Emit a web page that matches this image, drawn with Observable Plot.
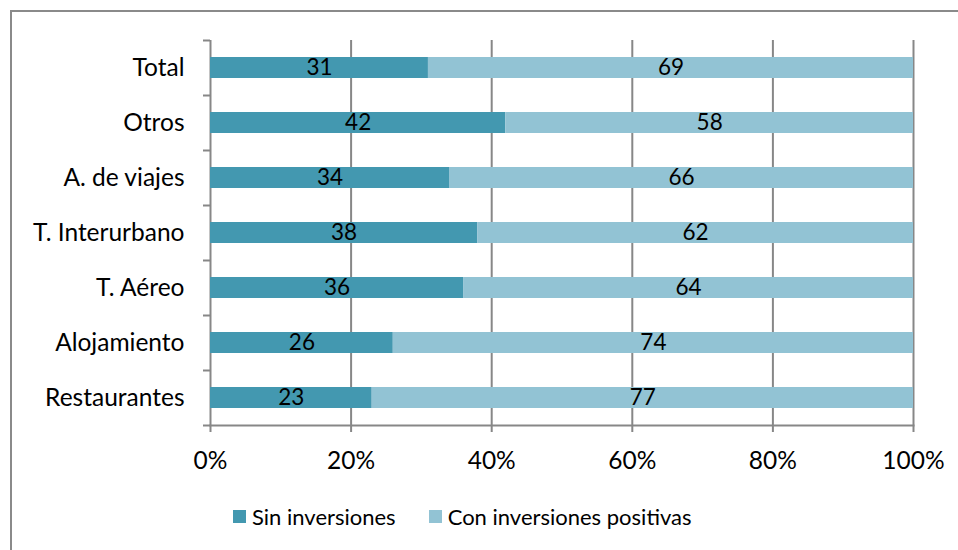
<!DOCTYPE html>
<html>
<head>
<meta charset="utf-8">
<script src="https://cdn.jsdelivr.net/npm/d3@7"></script>
<script src="https://cdn.jsdelivr.net/npm/@observablehq/plot@0.6"></script>
<style>
  html, body { margin: 0; padding: 0; background: #fff; }
  #wrap { position: relative; width: 958px; height: 550px; overflow: hidden; font-family: Lato, sans-serif; }
  #border { position: absolute; left: 10px; top: 10px; width: 960px; height: 560px; border-left: 2px solid #8a8a8a; border-top: 2px solid #8a8a8a; box-sizing: border-box; }
  #chart { position: absolute; left: 0; top: 0; }
  #legend { position: absolute; left: 233px; top: 503px; display: flex; align-items: center; font-size: 22px; color: #000; }
  .item { display: flex; align-items: center; margin-right: 33px; }
  .sw { width: 13px; height: 13px; margin-right: 6px; }
</style>
</head>
<body>
<div id="wrap">
  <div id="border"></div>
  <div id="chart"></div>
  <div id="legend"></div>
</div>
<script>
const categories = ["Total", "Otros", "A. de viajes", "T. Interurbano", "T. Aéreo", "Alojamiento", "Restaurantes"];
const sinInversiones = [31, 42, 34, 38, 36, 26, 23];
const conInversiones = [69, 58, 66, 62, 64, 74, 77];
const series = ["Sin inversiones", "Con inversiones positivas"];
const colors = ["#4398B0", "#92C3D4"];
const xTicks = [0, 20, 40, 60, 80, 100];

const data = categories.flatMap((c, i) => [
  {cat: c, serie: series[0], value: sinInversiones[i]},
  {cat: c, serie: series[1], value: conInversiones[i]}
]);

const gridColor = "#878787";

const chart = Plot.plot({
  width: 958,
  height: 480,
  marginLeft: 210,
  marginRight: 45,
  marginTop: 40,
  marginBottom: 55,
  style: {fontFamily: "Lato, sans-serif", fontSize: "24px", color: "black", background: "transparent", overflow: "visible"},
  x: {domain: [0, 100]},
  y: {domain: categories, padding: 0},
  color: {domain: series, range: colors},
  marks: [
    Plot.ruleX(xTicks, {stroke: gridColor, strokeWidth: 2}),
    Plot.barX(data, Plot.stackX({x: "value", y: "cat", fill: "serie", z: "serie", order: series, insetTop: 17, insetBottom: 17})),
    Plot.text(data, Plot.stackX({x: "value", y: "cat", z: "serie", text: "value", order: series, fill: "black", fontSize: 22.5})),
    Plot.frame({anchor: "bottom", stroke: gridColor, strokeWidth: 2}),
    Plot.axisX({ticks: xTicks, tickFormat: d => d + "%", tickSize: 7, tickPadding: 19, stroke: gridColor, strokeWidth: 2, fill: "black", fontSize: 24.5, label: null}),
    Plot.axisY({tickSize: 0, tickPadding: 26, label: null, fontSize: 24.5, fill: "black"}),
    Plot.axisY({tickSize: 7, tickFormat: () => "", dy: -27.5, stroke: gridColor, strokeWidth: 2, label: null}),
    Plot.axisY({ticks: ["Restaurantes"], tickSize: 7, tickFormat: () => "", dy: 27.5, stroke: gridColor, strokeWidth: 2, label: null})
  ]
});
document.getElementById("chart").appendChild(chart);

const legend = document.getElementById("legend");
series.forEach((s, i) => {
  const item = document.createElement("div");
  item.className = "item";
  const sw = document.createElement("div");
  sw.className = "sw";
  sw.style.background = colors[i];
  const t = document.createElement("span");
  t.textContent = s;
  item.appendChild(sw);
  item.appendChild(t);
  legend.appendChild(item);
});
</script>
</body>
</html>
